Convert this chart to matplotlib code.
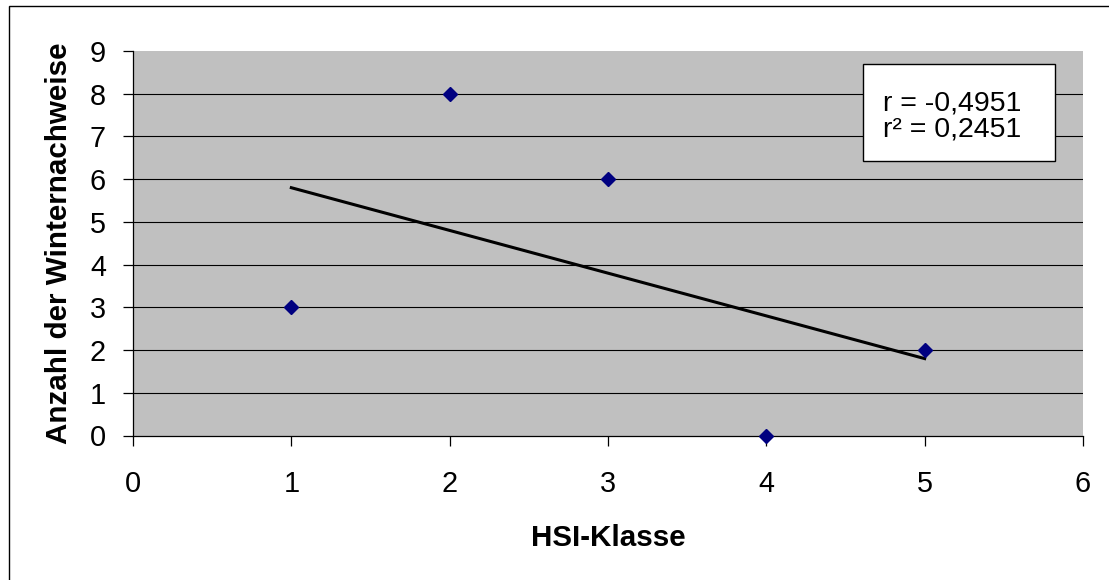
import numpy as np
import matplotlib
matplotlib.use("Agg")
import matplotlib.pyplot as plt
from matplotlib.patches import Rectangle

plt.rcParams["font.family"] = ["Liberation Sans", "DejaVu Sans"]

# Daten
hsi_klasse = np.array([1, 2, 3, 4, 5])
winternachweise = np.array([3, 8, 6, 0, 2])
x_ticks = [0, 1, 2, 3, 4, 5, 6]
y_ticks = [0, 1, 2, 3, 4, 5, 6, 7, 8, 9]

W, H = 1109, 580
fig = plt.figure(figsize=(W / 100, H / 100), dpi=100)
ax = fig.add_axes([133 / W, 1 - 435.5 / H, (1083 - 133) / W, (435.5 - 51) / H])
ax.set_facecolor("#c0c0c0")

# Gitterlinien (ohne oberste)
for yv in y_ticks[1:-1]:
    ax.axhline(yv, color="black", lw=0.8, zorder=1)

# Trendlinie
z = np.polyfit(hsi_klasse, winternachweise, 1)
x_fit = np.array([hsi_klasse.min(), hsi_klasse.max()])
ax.plot(x_fit, np.polyval(z, x_fit), color="black", lw=2.2, zorder=3)

ax.plot(hsi_klasse, winternachweise, linestyle="none", marker="D", ms=7,
        color="#000080", zorder=4, clip_on=False)

ax.set_xlim(0, 6)
ax.set_ylim(0, 9)
ax.set_xticks(x_ticks)
ax.set_yticks(y_ticks)
for s in ["top", "right"]:
    ax.spines[s].set_visible(False)
for s in ["left", "bottom"]:
    ax.spines[s].set_linewidth(0.9)
ax.tick_params(axis="both", direction="out", length=7.5, width=0.9, labelsize=20.8, colors="black")
ax.tick_params(axis="x", pad=17)
ax.tick_params(axis="y", pad=12)

ax.set_xlabel("HSI-Klasse", fontsize=21.3, fontweight="bold", labelpad=19)
ax.set_ylabel("Anzahl der Winternachweise", fontsize=21.3, fontweight="bold", labelpad=12)

# Korrelationsbox
r = np.corrcoef(hsi_klasse, winternachweise)[0, 1]
fig.patches.append(Rectangle((863 / W, 1 - 161 / H), 192 / W, 97 / H,
                             transform=fig.transFigure, facecolor="white",
                             edgecolor="black", lw=1.0, zorder=5))
fig.text(883 / W, 1 - 104 / H, f"r = {r:.4f}".replace(".", ","), fontsize=20.5,
         va="center", ha="left", zorder=6)
fig.text(883 / W, 1 - 130 / H, f"r² = {r**2:.4f}".replace(".", ","), fontsize=20.5,
         va="center", ha="left", zorder=6)

# Rahmen der Grafik
fig.patches.append(Rectangle((8.5 / W, -0.1), 1.2, 1.1 - 6 / H,
                             transform=fig.transFigure, facecolor="none",
                             edgecolor="black", lw=1.0))

fig.savefig("out.png", dpi=100)
